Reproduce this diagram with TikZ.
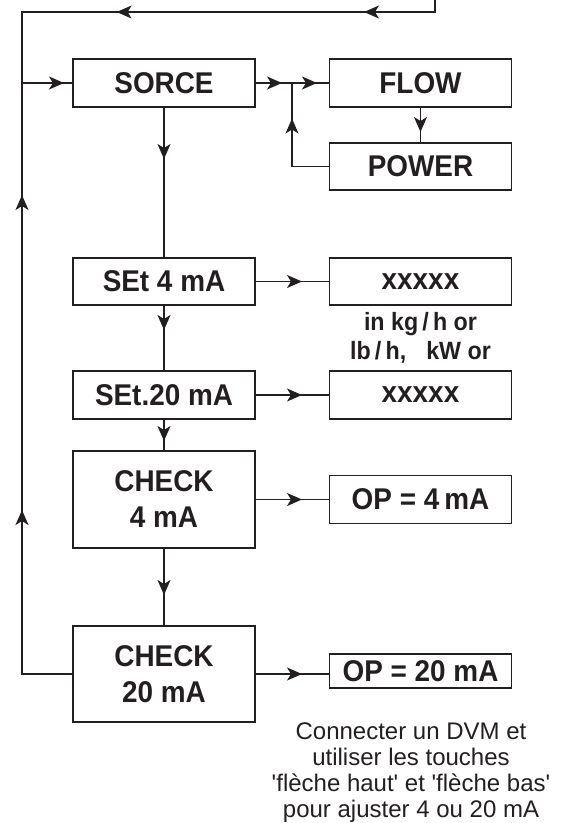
\documentclass[tikz,border=0pt]{standalone}
\usepackage{fontspec}
\setmainfont{Liberation Sans}
\newfontfamily\condsans[FakeStretch=0.93]{Liberation Sans}
\usetikzlibrary{arrows.meta,decorations.markings}
\definecolor{ink}{HTML}{231F20}
\tikzset{
  box/.style={draw=ink, line width=1.7pt, rectangle, inner sep=0pt, outer sep=0pt,
    minimum width=182pt, text=ink, font=\condsans\fontsize{30}{36}\selectfont\bfseries, align=center},
  conn/.style={draw=ink, line width=1.3pt},
  midarrow/.style={postaction={decorate, decoration={markings,
    mark=at position #1 with {\arrow{Stealth[length=15pt,width=13pt,inset=4pt]}}}}},
  note/.style={text=ink, inner sep=0pt, anchor=base},
}
\begin{document}
\begin{tikzpicture}[x=1pt,y=-1pt]
\useasboundingbox (0,0) rectangle (572,823);
% boxes
\node[box, minimum height=48pt] (sorce) at (164,83) {SORCE};
\node[box, minimum height=48pt] (flow) at (420.5,83) {FLOW};
\node[box, minimum height=47pt] (power) at (420.5,166.5) {POWER};
\node[box, minimum height=47pt] (set4) at (164,281.5) {SEt 4 mA};
\node[box, minimum height=47pt] (x1) at (420.5,281.5) {xxxxx};
\node[box, minimum height=48pt] (set20) at (164,395) {SEt.20 mA};
\node[box, minimum height=48pt] (x2) at (420.5,395) {xxxxx};
\node[box, minimum height=97pt] (check4) at (164,499.5) {CHECK\\4 mA};
\node[box, minimum height=48pt] (op4) at (420.5,499.5) {OP = 4\,mA};
\node[box, minimum height=96pt] (check20) at (164,674) {CHECK\\20 mA};
\node[box, minimum height=34pt] (op20) at (420.5,671) {OP = 20 mA};
% free coordinates
\coordinate (topin) at (435,0);
\coordinate (topr) at (435,12);
\coordinate (topl) at (22,12);
\coordinate (jl) at (22,83);
\coordinate (jn) at (292,83);
\coordinate (botl) at (22,674);
% connectors
\draw[conn, midarrow=83pt, midarrow=330.4pt] (topin) -- (topr) -- (topl) -- (jl);
\draw[conn, midarrow=215pt, midarrow=530pt] (check20.west) -- (botl) -- (jl);
\draw[conn, midarrow=42pt] (jl) -- (sorce.west);
\draw[conn, midarrow=27pt] (sorce.east) -- (jn);
\draw[conn, midarrow=25pt] (jn) -- (flow.west);
\draw[conn, midarrow=85.5pt] (power.west) -| (jn);
\draw[conn, midarrow=25pt] (flow.south) -- (power.north);
\draw[conn, midarrow=52pt] (sorce.south) -- (set4.north);
\draw[conn, midarrow=47pt] (set4.east) -- (x1.west);
\draw[conn, midarrow=25pt] (set4.south) -- (set20.north);
\draw[conn, midarrow=47pt] (set20.east) -- (x2.west);
\draw[conn, midarrow=22pt] (set20.south) -- (check4.north);
\draw[conn, midarrow=47pt] (check4.east) -- (op4.west);
\draw[conn, midarrow=47pt] (check4.south) -- (check20.north);
\draw[conn, midarrow=47pt] (check20.east) -- (check20.east -| op20.west);
% notes
\node[note, font=\condsans\fontsize{25}{29}\selectfont\bfseries] (u1) at (420.5,330) {in kg\,/\,h or};
\node[note, font=\condsans\fontsize{25}{29}\selectfont\bfseries] (u2) at (420.5,359) {lb\,/\,h,\hspace{0.8em}kW or};
\node[note, font=\fontsize{24}{26}\selectfont] (n1) at (411,739) {Connecter un DVM et};
\node[note, font=\fontsize{24}{26}\selectfont] (n2) at (411,765) {utiliser les touches};
\node[note, font=\fontsize{24}{26}\selectfont] (n3) at (411,791) {\textquotesingle flèche haut\textquotesingle{} et \textquotesingle flèche bas\textquotesingle};
\node[note, font=\fontsize{24}{26}\selectfont] (n4) at (411,817) {pour ajuster 4 ou 20 mA};
\end{tikzpicture}
\end{document}
